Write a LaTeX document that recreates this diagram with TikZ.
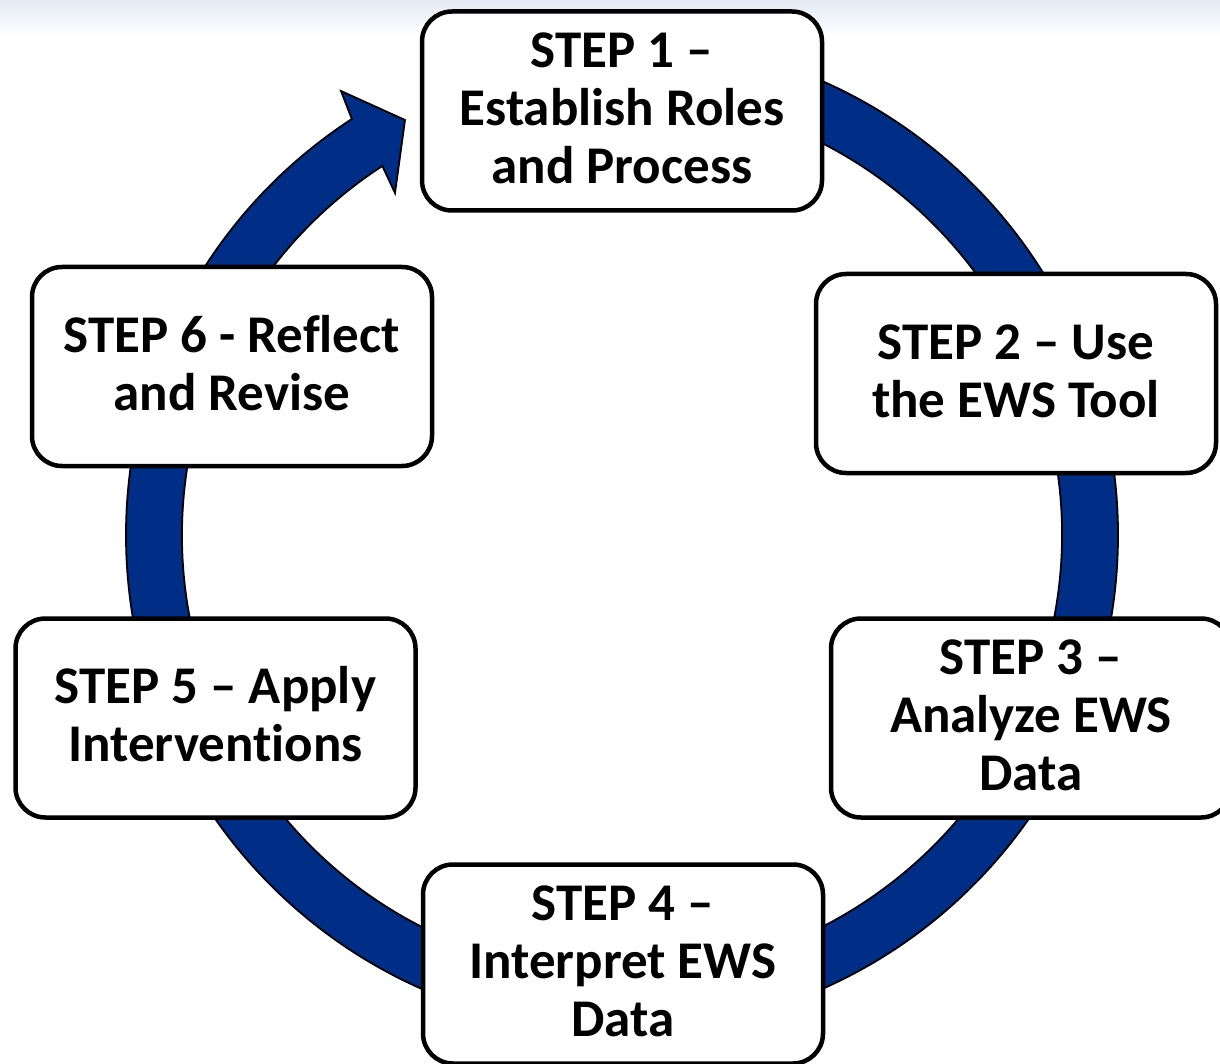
\documentclass[tikz,border=0pt]{standalone}
\usepackage{fontspec}
\setmainfont{Carlito}[Ligatures={TeX,NoCommon}]
\definecolor{ewsblue}{RGB}{0,46,135}
\definecolor{haze}{RGB}{228,233,243}
% struts that fix the height of the first line and the depth of the last one
\newcommand\hstrut{\rule{0pt}{0.75em}}
\newcommand\dstrut{\rule[-0.2em]{0pt}{0.2em}}
\begin{document}
\begin{tikzpicture}[x=1pt,y=1pt,
  stepbox/.style={draw=black, line width=4.5pt, fill=white, rounded corners=30pt,
    minimum width=400pt, minimum height=199pt, inner sep=0pt, align=center,
    font=\fontsize{53}{58}\selectfont\bfseries},
  ring/.style={fill=ewsblue, draw=black, line width=1.8pt, line join=miter}]
\useasboundingbox (0,0) rectangle (1220,-1064);
\clip (0,0) rectangle (1220,-1064);

% pale band along the top edge
\shade[top color=haze, bottom color=white] (0,0) rectangle (1220,-36);

% circular arrow running clockwise round the six steps
\begin{scope}[shift={(622,-535)}]
  \coordinate (outerbarb) at (-281,444);
  \coordinate (tip) at (-217,415);
  \coordinate (innerbarb) at (-227,342);
  \draw[ring] (90:496) arc[start angle=90, end angle=-237, radius=496]
    -- (outerbarb) -- (tip) -- (innerbarb)
    -- (-237:440) arc[start angle=-237, end angle=90, radius=440] -- cycle;
\end{scope}

% the six steps
\node[stepbox] (s1) at (622,-111)
  {\hstrut STEP 1 –\\Establish Roles\\and Process\dstrut};
\node[stepbox] (s2) at (1016,-373.5)
  {\hstrut STEP 2 – Use\\the EWS Tool\dstrut};
\node[stepbox] (s3) at (1031,-718)
  {\hstrut STEP 3 –\\Analyze EWS\\Data\dstrut};
\node[stepbox] (s4) at (623,-964)
  {\hstrut STEP 4 –\\Interpret EWS\\Data\dstrut};
\node[stepbox] (s5) at (215.5,-718)
  {\hstrut STEP 5 – Apply\\Interventions\dstrut};
\node[stepbox] (s6) at (232,-366.5)
  {\hstrut STEP 6 - Reflect\\and Revise\dstrut};
\end{tikzpicture}
\end{document}
